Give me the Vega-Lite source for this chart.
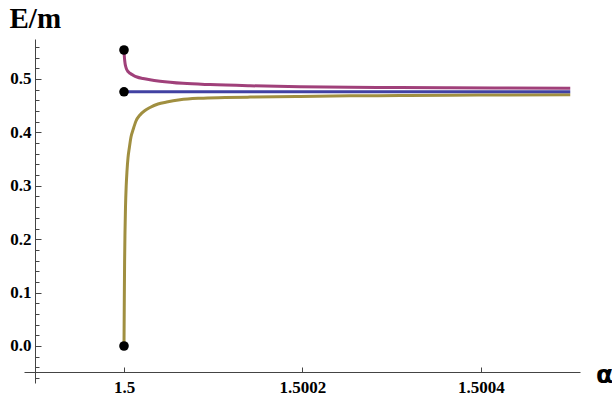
{
  "$schema": "https://vega.github.io/schema/vega-lite/v6.json",
  "width": 556,
  "height": 344,
  "autosize": "none",
  "padding": {"left": 24, "top": 39, "right": 32, "bottom": 17},
  "background": "white",
  "config": {
    "view": {"stroke": null},
    "axis": {
      "grid": false,
      "domainColor": "#444444",
      "tickColor": "#444444",
      "labelFont": "Liberation Serif",
      "labelFontWeight": "bold",
      "labelFontSize": 17,
      "labelColor": "black"
    }
  },
  "layer": [
    {
      "data": {
        "values": [
          {"s": "lower", "a": 1.5, "v": 0},
          {"s": "lower", "a": 1.50000034, "v": 0.0861},
          {"s": "lower", "a": 1.50000067, "v": 0.1573},
          {"s": "lower", "a": 1.50000112, "v": 0.2135},
          {"s": "lower", "a": 1.50000168, "v": 0.2603},
          {"s": "lower", "a": 1.50000246, "v": 0.2996},
          {"s": "lower", "a": 1.50000336, "v": 0.3277},
          {"s": "lower", "a": 1.50000448, "v": 0.3521},
          {"s": "lower", "a": 1.50000594, "v": 0.3708},
          {"s": "lower", "a": 1.50000784, "v": 0.3914},
          {"s": "lower", "a": 1.50001042, "v": 0.4064},
          {"s": "lower", "a": 1.50001345, "v": 0.4213},
          {"s": "lower", "a": 1.50001793, "v": 0.4326},
          {"s": "lower", "a": 1.50002353, "v": 0.441},
          {"s": "lower", "a": 1.50002913, "v": 0.4466},
          {"s": "lower", "a": 1.5000381, "v": 0.4532},
          {"s": "lower", "a": 1.50004784, "v": 0.4569},
          {"s": "lower", "a": 1.50006275, "v": 0.461},
          {"s": "lower", "a": 1.50008515, "v": 0.4639},
          {"s": "lower", "a": 1.50011317, "v": 0.4652},
          {"s": "lower", "a": 1.50014118, "v": 0.4661},
          {"s": "lower", "a": 1.5001972, "v": 0.4674},
          {"s": "lower", "a": 1.50025322, "v": 0.4684},
          {"s": "lower", "a": 1.50030924, "v": 0.4691},
          {"s": "lower", "a": 1.50036527, "v": 0.4697},
          {"s": "lower", "a": 1.50042129, "v": 0.47},
          {"s": "lower", "a": 1.5005, "v": 0.4706},
          {"s": "upper", "a": 1.5, "v": 0.5543},
          {"s": "upper", "a": 1.50000022, "v": 0.5468},
          {"s": "upper", "a": 1.50000056, "v": 0.5384},
          {"s": "upper", "a": 1.50000112, "v": 0.53},
          {"s": "upper", "a": 1.5000019, "v": 0.5234},
          {"s": "upper", "a": 1.5000028, "v": 0.5187},
          {"s": "upper", "a": 1.50000448, "v": 0.514},
          {"s": "upper", "a": 1.50000672, "v": 0.5107},
          {"s": "upper", "a": 1.50001042, "v": 0.5069},
          {"s": "upper", "a": 1.50001457, "v": 0.5037},
          {"s": "upper", "a": 1.50002129, "v": 0.5009},
          {"s": "upper", "a": 1.50002913, "v": 0.4985},
          {"s": "upper", "a": 1.50004034, "v": 0.4959},
          {"s": "upper", "a": 1.50006611, "v": 0.4919},
          {"s": "upper", "a": 1.50009636, "v": 0.4895},
          {"s": "upper", "a": 1.50014118, "v": 0.4873},
          {"s": "upper", "a": 1.5001972, "v": 0.4856},
          {"s": "upper", "a": 1.50025322, "v": 0.4846},
          {"s": "upper", "a": 1.50030924, "v": 0.4841},
          {"s": "upper", "a": 1.50036527, "v": 0.4837},
          {"s": "upper", "a": 1.50042129, "v": 0.4833},
          {"s": "upper", "a": 1.5005, "v": 0.4828},
          {"s": "middle", "a": 1.5, "v": 0.476},
          {"s": "middle", "a": 1.5005, "v": 0.476}
        ]
      },
      "mark": {"type": "line", "strokeWidth": 3, "interpolate": "monotone"},
      "encoding": {
        "x": {
          "field": "a",
          "type": "quantitative",
          "scale": {"domain": [1.499887955, 1.500510925], "nice": false, "zero": false},
          "axis": {
            "values": [1.5, 1.5002, 1.5004],
            "format": "~g",
            "orient": "bottom",
            "offset": -11,
            "tickSize": -5,
            "labelPadding": 12,
            "labelFlush": false,
            "labelOverlap": false,
            "title": "α",
            "titleFont": "DejaVu Sans",
            "titleFontSize": 25,
            "titleFontWeight": "bold",
            "titleColor": "black",
            "titleAngle": 0,
            "titleX": 580,
            "titleY": 10,
            "titleAlign": "center",
            "titleBaseline": "alphabetic"
          }
        },
        "y": {
          "field": "v",
          "type": "quantitative",
          "scale": {"domain": [-0.0693, 0.5749], "nice": false, "zero": false},
          "axis": {
            "values": [0, 0.1, 0.2, 0.3, 0.4, 0.5],
            "format": ".1f",
            "orient": "left",
            "offset": -11,
            "tickSize": -6,
            "labelPadding": 10,
            "title": "E/m",
            "titleFont": "Liberation Serif",
            "titleFontSize": 29,
            "titleFontWeight": "bold",
            "titleColor": "black",
            "titleAngle": 0,
            "titleX": -26,
            "titleY": -12,
            "titleAlign": "left",
            "titleBaseline": "alphabetic"
          }
        },
        "color": {
          "field": "s",
          "type": "nominal",
          "scale": {"domain": ["middle", "upper", "lower"], "range": ["#4141a2", "#a0407a", "#a08f40"]},
          "legend": null
        }
      }
    },
    {
      "data": {
        "values": [
          {"a": 1.5, "v": 0.5543},
          {"a": 1.5, "v": 0.476},
          {"a": 1.5, "v": 0}
        ]
      },
      "mark": {"type": "circle", "size": 92, "color": "black", "opacity": 1},
      "encoding": {
        "x": {
          "field": "a",
          "type": "quantitative",
          "scale": {"domain": [1.499887955, 1.500510925], "nice": false, "zero": false}
        },
        "y": {
          "field": "v",
          "type": "quantitative",
          "scale": {"domain": [-0.0693, 0.5749], "nice": false, "zero": false},
          "axis": {
            "values": [-0.06, -0.04, -0.02, 0.02, 0.04, 0.06, 0.08, 0.12, 0.14, 0.16, 0.18, 0.22, 0.24, 0.26, 0.28, 0.32, 0.34, 0.36, 0.38, 0.42, 0.44, 0.46, 0.48, 0.52, 0.54, 0.56],
            "orient": "left",
            "offset": -11,
            "tickSize": -4,
            "labels": false,
            "domain": false,
            "title": null
          }
        }
      }
    }
  ],
  "resolve": {"axis": {"y": "independent"}}
}
